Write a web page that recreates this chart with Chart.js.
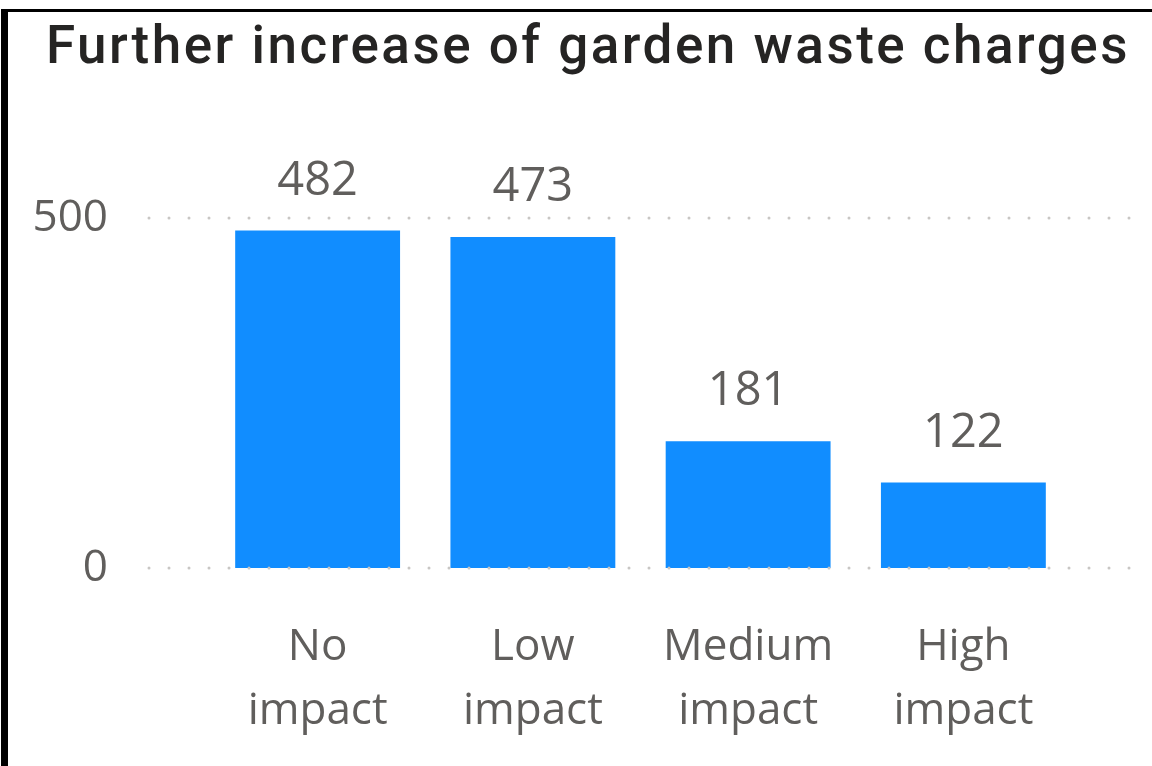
<!DOCTYPE html>
<html>
<head>
<meta charset="utf-8">
<script src="https://cdn.jsdelivr.net/npm/chart.js@4.4.1/dist/chart.umd.min.js"></script>
<style>
  html, body { margin: 0; padding: 0; background: #fff; }
  #wrap { position: relative; width: 1152px; height: 766px; }
  #frame {
    position: absolute; left: 1px; top: 9px; right: 0; bottom: 0;
    border-top: 3px solid #000; border-left: 7px solid #000;
    pointer-events: none;
  }
</style>
</head>
<body>
<div id="wrap">
  <canvas id="myChart" width="1152" height="766"></canvas>
  <div id="frame"></div>
</div>
<script>
// data
let categories = [['No', 'impact'], ['Low', 'impact'], ['Medium', 'impact'], ['High', 'impact']];
let counts = [482, 473, 181, 122];
let y_ticks = [0, 500];
let title_text = 'Further increase of garden waste charges';

let text_gray = '#605E5C';
let bar_blue = '#118DFF';

// dotted gridlines, wider than the plot area (Power BI look)
let dotted_grid = {
    id: 'dotted_grid',
    afterDatasetsDraw(chart) {
        let ctx = chart.ctx;
        let area = chart.chartArea;
        let y = chart.scales.y;
        ctx.save();
        ctx.strokeStyle = '#C8C6C4';
        ctx.lineWidth = 3;
        ctx.lineCap = 'round';
        ctx.setLineDash([0, 20]);
        y.ticks.forEach(t => {
            let py = y.getPixelForValue(t.value);
            ctx.beginPath();
            ctx.moveTo(area.left - 61, py);
            ctx.lineTo(area.right + 60, py);
            ctx.stroke();
        });
        ctx.restore();
    }
};

// value labels above the bars
let bar_labels = {
    id: 'bar_labels',
    afterDatasetsDraw(chart) {
        let ctx = chart.ctx;
        let meta = chart.getDatasetMeta(0);
        ctx.save();
        ctx.font = '47px "Open Sans"';
        ctx.fillStyle = text_gray;
        ctx.textAlign = 'center';
        ctx.textBaseline = 'alphabetic';
        meta.data.forEach((bar, i) => {
            ctx.fillText(String(counts[i]), bar.x, bar.y - 36);
        });
        ctx.restore();
    }
};

// title drawn by hand: the built-in one can't be offset from the plot
let big_title = {
    id: 'big_title',
    afterDraw(chart) {
        let ctx = chart.ctx;
        ctx.save();
        ctx.font = '500 53px Roboto';
        ctx.letterSpacing = '2.5px';
        ctx.fillStyle = '#252423';
        ctx.textAlign = 'center';
        ctx.textBaseline = 'alphabetic';
        ctx.fillText(title_text, 588, 63);
        ctx.restore();
    }
};

const ctx = document.getElementById('myChart');

new Chart(ctx, {
    type: 'bar',
    data: {
        labels: categories,
        datasets: [{
            data: counts,
            backgroundColor: bar_blue,
            borderWidth: 0,
            categoryPercentage: 1,
            barPercentage: 0.766
        }]
    },
    options: {
        responsive: false,
        animation: false,
        layout: { padding: { left: 0, right: 81, top: 148, bottom: 0 } },
        plugins: {
            legend: { display: false },
            tooltip: { enabled: false },
            title: { display: false }
        },
        scales: {
            x: {
                grid: { display: false, drawTicks: false },
                border: { display: false },
                ticks: {
                    color: text_gray,
                    font: { family: 'Open Sans', size: 44, lineHeight: 1.45 },
                    padding: 48,
                    maxRotation: 0,
                    autoSkip: false
                },
                afterFit(scale) { scale.height = 198; }
            },
            y: {
                min: 0,
                max: 600,
                grid: { display: false, drawTicks: false },
                border: { display: false },
                afterBuildTicks(scale) {
                    scale.ticks = y_ticks.map(v => ({ value: v }));
                },
                ticks: {
                    color: text_gray,
                    font: { family: 'Open Sans', size: 44 },
                    padding: 102
                },
                afterFit(scale) { scale.width = 210; }
            }
        }
    },
    plugins: [dotted_grid, bar_labels, big_title]
});
</script>
</body>
</html>
